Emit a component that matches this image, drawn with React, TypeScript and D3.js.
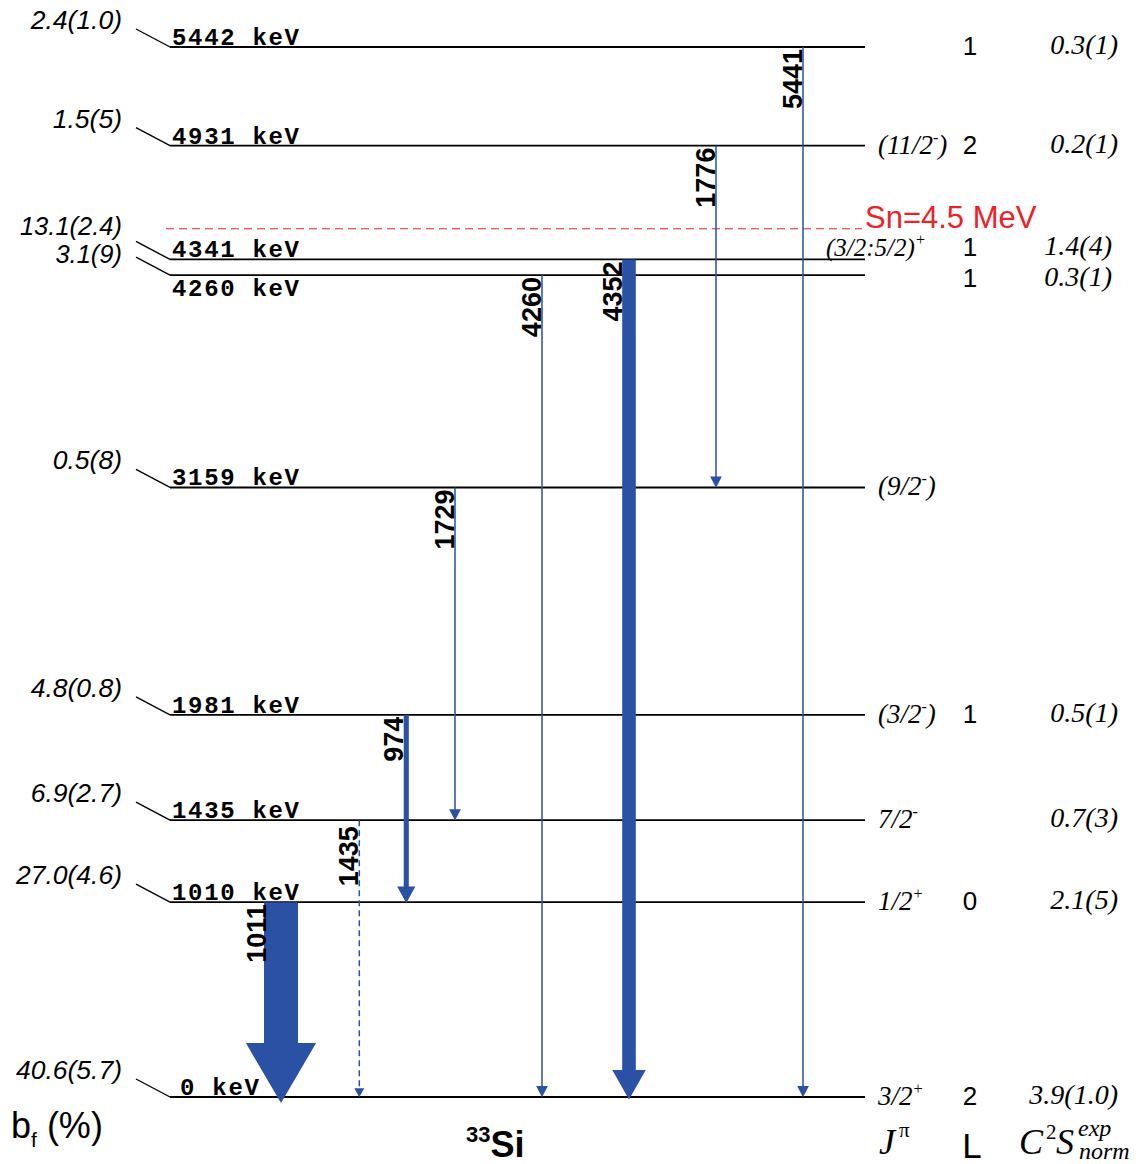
import React from "react";
import * as d3 from "d3";

// ---- Data ----
const levelEnergies = [0, 1010, 1435, 1981, 3159, 4260, 4341, 4931, 5442];
const feedings = ["40.6(5.7)", "27.0(4.6)", "6.9(2.7)", "4.8(0.8)", "0.5(8)", "3.1(9)", "13.1(2.4)", "1.5(5)", "2.4(1.0)"];
const spins = ["3/2^+", "1/2^+", "7/2^-", "(3/2^-)", "(9/2^-)", "", "(3/2:5/2)^+", "(11/2^-)", ""];
const lValues = ["2", "0", "", "1", "", "1", "1", "2", "1"];
const c2sValues = ["3.9(1.0)", "2.1(5)", "0.7(3)", "0.5(1)", "", "0.3(1)", "1.4(4)", "0.2(1)", "0.3(1)"];
const snEnergy = 4500;
const snLabel = "Sn=4.5 MeV";

const gammaEnergies = [1011, 1435, 974, 1729, 4260, 4352, 1776, 5441];
const gammaFrom = [1010, 1435, 1981, 3159, 4260, 4341, 4931, 5442];
const gammaTo = [0, 0, 1010, 1435, 0, 0, 3159, 0];
const gammaIntensity = [100, 3, 15, 4, 4, 40, 4, 4];
const gammaTentative = [false, true, false, false, false, false, false, false];
const gammaSlot = [0, 0.9, 1.44, 2, 3, 4, 5, 6];

const BLUE = "#2a51a3";
const RED = "#ec2227";
const SANS = "Liberation Sans, Arial, Helvetica, sans-serif";
const SERIF = "Liberation Serif, Times New Roman, serif";
const MONO = "Courier New, Liberation Mono, monospace";

function parseSpin(s: string) {
  const i = s.indexOf("^");
  if (i < 0) return { pre: s, sup: "", post: "" };
  return { pre: s.slice(0, i), sup: s[i + 1], post: s.slice(i + 2) };
}

export default function App() {
  const W = 1136, H = 1164;
  const y = d3.scaleLinear().domain([0, 5442]).range([1097, 47]);
  const xSlot = d3.scaleLinear().domain([0, 6]).range([281, 803]);
  const wScale = d3.scaleLinear().domain([0, 100]).range([0, 34]);
  const xL = 170, xR = 865;

  const ys = levelEnergies.map((e) => y(e));
  const role = levelEnergies.map((_, i) => {
    if (i + 1 < ys.length && ys[i] - ys[i + 1] < 25) return "lower";
    if (i > 0 && ys[i - 1] - ys[i] < 25) return "upper";
    return "single";
  });

  return (
    <svg width={W} height={H} style={{ position: "absolute", left: 0, top: 0, background: "#fff" }}>
      {/* levels */}
      {levelEnergies.map((e, i) => {
        const yy = ys[i];
        const r = role[i];
        const lblY = r === "lower" ? yy + 21 : yy - 2;
        const fedY = r === "upper" ? yy - 24 : r === "lower" ? yy - 12 : yy - 18;
        const rightY = r === "upper" ? yy - 3 : r === "lower" ? yy + 12 : yy + 8;
        const txt = `${e} keV`;
        const sp = parseSpin(spins[i]);
        return (
          <g key={e}>
            <line x1={xL} x2={xR} y1={yy} y2={yy} stroke="#000" strokeWidth={1.8} />
            <line x1={136} y1={yy - 18} x2={xL} y2={yy} stroke="#000" strokeWidth={1.4} />
            <text x={e === 0 ? 180 : 172} y={lblY} fontFamily={MONO} fontWeight="bold" fontSize={24}
              textLength={txt.length * 16 - 1} lengthAdjust="spacing">{txt}</text>
            <text x={122} y={fedY} textAnchor="end" fontFamily={SANS} fontStyle="italic" fontSize={r === "single" ? 26.5 : 25.5}>{feedings[i]}</text>
            {spins[i] && (
              <text x={r === "upper" ? 826 : 878} y={rightY} fontFamily={SERIF} fontStyle="italic" fontSize={r === "upper" ? 25 : 27}>
                {sp.pre}
                {sp.sup && <tspan fontSize={16} dy={-11}>{sp.sup}</tspan>}
                {sp.post && <tspan dy={11}>{sp.post}</tspan>}
              </text>
            )}
            {lValues[i] && (
              <text x={970} y={rightY} textAnchor="middle" fontFamily={SANS} fontSize={26}>{lValues[i]}</text>
            )}
            {c2sValues[i] && (
              <text x={r === "single" ? 1118 : 1112} y={rightY - 1} textAnchor="end" fontFamily={SERIF} fontStyle="italic" fontSize={28}>{c2sValues[i]}</text>
            )}
          </g>
        );
      })}

      {/* neutron separation */}
      <line x1={166} x2={862} y1={y(snEnergy)} y2={y(snEnergy)} stroke={RED} strokeWidth={1.2} strokeDasharray="8,5" />
      <text x={865} y={y(snEnergy) - 1} fontFamily={SANS} fontSize={31} fill={RED}>{snLabel}</text>

      {/* gammas */}
      {gammaEnergies.map((g, i) => {
        const cx = xSlot(gammaSlot[i]);
        const w = Math.max(1.5, wScale(gammaIntensity[i]));
        const y0 = y(gammaFrom[i]);
        const tip = y(gammaTo[i]) + w * 0.18;
        const tent = gammaTentative[i];
        const hw = tent ? 10 : 9 + 1.8 * w;
        const hh = tent ? 9 : 9 + 1.5 * w;
        const path = d3.path();
        path.moveTo(cx - hw / 2, tip - hh);
        path.lineTo(cx + hw / 2, tip - hh);
        path.lineTo(cx, tip);
        path.closePath();
        return (
          <g key={g}>
            <line x1={cx} x2={cx} y1={y0} y2={tip - hh + 1} stroke={BLUE} strokeWidth={w}
              strokeDasharray={tent ? "6,4" : undefined} />
            <path d={path.toString()} fill={BLUE} />
            <text transform={`translate(${cx - w / 2 + (w > 20 ? 2 : -0.5)},${y0 + (tent ? 6 : 2)}) rotate(-90)`}
              textAnchor="end" fontFamily={SANS} fontWeight="bold" fontSize={27}>{g}</text>
          </g>
        );
      })}

      {/* footer labels */}
      <text x={11} y={1138} fontFamily={SANS} fontSize={36}>
        b<tspan fontSize={21} dy={9}>f</tspan><tspan dy={-9}> (%)</tspan>
      </text>
      <text x={466} y={1157} fontFamily={SANS} fontWeight="bold" fontSize={36}>
        <tspan fontSize={22} dy={-15}>33</tspan><tspan dy={15}>Si</tspan>
      </text>
      <text x={879} y={1154} fontFamily={SERIF} fontStyle="italic" fontSize={36}>
        J<tspan fontStyle="normal" fontSize={21} dy={-17} dx={4}>π</tspan>
      </text>
      <text x={972} y={1158} textAnchor="middle" fontFamily={SANS} fontSize={35}>L</text>
      <text x={1019} y={1154} fontFamily={SERIF} fontStyle="italic" fontSize={36}>C</text>
      <text x={1046} y={1139} fontFamily={SERIF} fontSize={21}>2</text>
      <text x={1056} y={1154} fontFamily={SERIF} fontStyle="italic" fontSize={36}>S</text>
      <text x={1078} y={1136} fontFamily={SERIF} fontStyle="italic" fontSize={24}>exp</text>
      <text x={1079} y={1159} fontFamily={SERIF} fontStyle="italic" fontSize={24}>norm</text>
    </svg>
  );
}
